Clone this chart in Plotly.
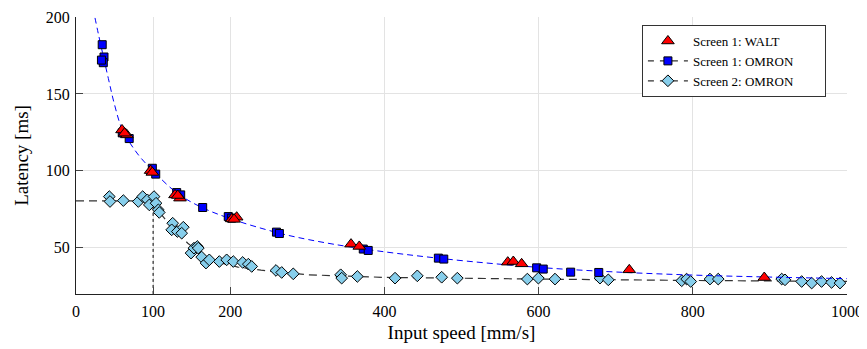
import plotly.graph_objects as go

# ---- data ----
walt_x = [59.7, 66, 63, 96.8, 99, 128.4, 134.9, 132, 202, 208.4, 205, 356.7, 367.4, 560, 567.2, 578, 717.6, 892.7]
walt_y = [126.6, 123.4, 124.5, 100.2, 99, 84.4, 82.3, 84, 68.8, 69.9, 68.5, 52.4, 50.9, 40.7, 41.1, 39.6, 35.7, 30.7]

omron1_x = [34, 36.3, 35.4, 33, 60, 69, 99, 103.4, 130.6, 135.8, 164.3, 197.5, 201.9, 260, 263.8,
            372.6, 379, 470, 477, 597.5, 606, 641.6, 678]
omron1_y = [182, 174, 170.3, 172, 124.7, 121, 101.7, 97.9, 85.9, 84.4, 76.2, 70.3, 69.3, 60.2, 59.3,
            49.2, 48.3, 43.3, 42.7, 37, 36.2, 34.2, 34]

omron2_x = [43.2, 44.1, 61.4, 80.8, 86.5, 92.5, 95.1, 101.2, 103.8, 106.8, 108, 125.4, 124.1, 131.4,
            139.2, 137.1, 149.2, 153, 157.3, 158.6, 163, 168.6, 172.9, 185.9, 195.4, 204, 216.2, 223.5,
            227.9, 259.4, 266.8, 281.8, 343.3, 344.6, 364.9, 413.8, 442.7, 474.3, 494.6, 585.4, 599.7,
            621.3, 679.6, 690.4, 785.6, 792, 797.3, 822.3, 833, 915.3, 919.6, 941.2, 954.2, 967, 980, 990.9]
omron2_y = [83.3, 80.1, 80.7, 80.1, 83.3, 81.2, 77.9, 83.3, 79, 74.7, 73, 66, 61.7, 60.6,
            63.4, 59.5, 46.6, 49.8, 50.9, 49.8, 44, 40.1, 42.2, 41.1, 42.2, 41.1, 40.5, 39.4,
            37.9, 35.3, 34, 33.1, 32.5, 30.3, 31.4, 30.3, 31.8, 30.9, 30.3, 29.7, 30.3,
            29.7, 30.3, 29.2, 28.6, 29.7, 28.1, 29.7, 29.7, 29.7, 29.2, 28.1, 27.1, 28.1, 27.5, 27.1]

# fitted curves
fit1_x = [22, 29, 42, 50, 60, 80, 100, 130, 160, 200, 260, 300, 370, 475, 600, 700, 800, 900, 1000]
fit1_y = [206, 189, 160, 143, 127, 111, 100, 86, 77, 69, 60, 55.5, 49.5, 43, 37.3, 34.3, 32.3, 31, 30]

fit2_x = [0, 100, 110, 125, 145, 165, 185, 210, 240, 300, 400, 520, 600, 800, 1000]
fit2_y = [80.5, 80.5, 72, 63, 53, 45, 40.5, 37.5, 35.5, 32.5, 30.8, 30, 29.7, 28.8, 28.2]

knee_x = [100, 100]
knee_y = [80.5, 20]

x_ticks = [0, 100, 200, 400, 600, 800, 1000]
y_ticks = [50, 100, 150, 200]

series_names = ["Screen 1: WALT", "Screen 1: OMRON", "Screen 2: OMRON"]

FONT = "Liberation Serif, Times New Roman, serif"
LIGHTBLUE = "#87CEEB"
PAD = "\u00a0" * 8

fig = go.Figure()

fig.add_trace(go.Scatter(x=fit2_x, y=fit2_y, mode="lines", showlegend=False,
                         line=dict(color="#333333", width=1.2, dash="8px,5px"), hoverinfo="skip"))
fig.add_trace(go.Scatter(x=knee_x, y=knee_y, mode="lines", showlegend=False,
                         line=dict(color="black", width=1, dash="dot"), hoverinfo="skip"))
fig.add_trace(go.Scatter(x=omron2_x, y=omron2_y, mode="markers", showlegend=False,
                         marker=dict(symbol="diamond", size=9, color=LIGHTBLUE,
                                     line=dict(color="black", width=1))))
fig.add_trace(go.Scatter(x=fit1_x, y=fit1_y, mode="lines", showlegend=False, line_shape="spline",
                         line=dict(color="#0000FF", width=1, dash="6px,4px"), hoverinfo="skip"))
fig.add_trace(go.Scatter(x=omron1_x, y=omron1_y, mode="markers", showlegend=False,
                         marker=dict(symbol="square", size=8, color="#0000FF",
                                     line=dict(color="black", width=1))))
fig.add_trace(go.Scatter(x=walt_x, y=walt_y, mode="markers", showlegend=False,
                         marker=dict(symbol="triangle-up", size=11, color="#FF0000",
                                     line=dict(color="black", width=1))))

# legend-only entries
fig.add_trace(go.Scatter(x=[None], y=[None], mode="markers", name=series_names[0] + PAD,
                         marker=dict(symbol="triangle-up", size=11, color="#FF0000",
                                     line=dict(color="black", width=1))))
fig.add_trace(go.Scatter(x=[None], y=[None], mode="lines+markers", name=series_names[1] + PAD,
                         line=dict(color="#333333", width=1.2, dash="6px,6px"),
                         marker=dict(symbol="square", size=8, color="#0000FF",
                                     line=dict(color="black", width=1))))
fig.add_trace(go.Scatter(x=[None], y=[None], mode="lines+markers", name=series_names[2] + PAD,
                         line=dict(color="#333333", width=1.2, dash="6px,6px"),
                         marker=dict(symbol="diamond", size=9, color=LIGHTBLUE,
                                     line=dict(color="black", width=1))))

axis_common = dict(showgrid=True, gridcolor="#E3E3E3", gridwidth=1, zeroline=False,
                   showline=True, linecolor="#222222", linewidth=1, mirror=False,
                   ticks="inside", ticklen=7, tickcolor="#444444", automargin=False,
                   tickfont=dict(family=FONT, size=16, color="black"))

fig.update_layout(
    width=859, height=341,
    margin=dict(l=68, r=20, t=9, b=55),
    plot_bgcolor="white", paper_bgcolor="white",
    font=dict(family=FONT, color="black"),
    xaxis=dict(range=[0, 1000], tickvals=x_ticks, ticktext=[str(v) for v in x_ticks],
               ticklabelstandoff=3,
               title=dict(text="Input speed [mm/s]", font=dict(family=FONT, size=19), standoff=6),
               **axis_common),
    yaxis=dict(range=[20, 200], tickvals=y_ticks, ticktext=[str(v) for v in y_ticks],
               ticklabelstandoff=2,
               title=dict(text="Latency [ms]", font=dict(family=FONT, size=19), standoff=12),
               **axis_common),
    legend=dict(x=0.734, y=0.971, xanchor="left", yanchor="top",
                bgcolor="white", bordercolor="#333333", borderwidth=1,
                font=dict(family=FONT, size=13), itemwidth=40,
                tracegroupgap=0),
)

fig.write_html("out.html")
